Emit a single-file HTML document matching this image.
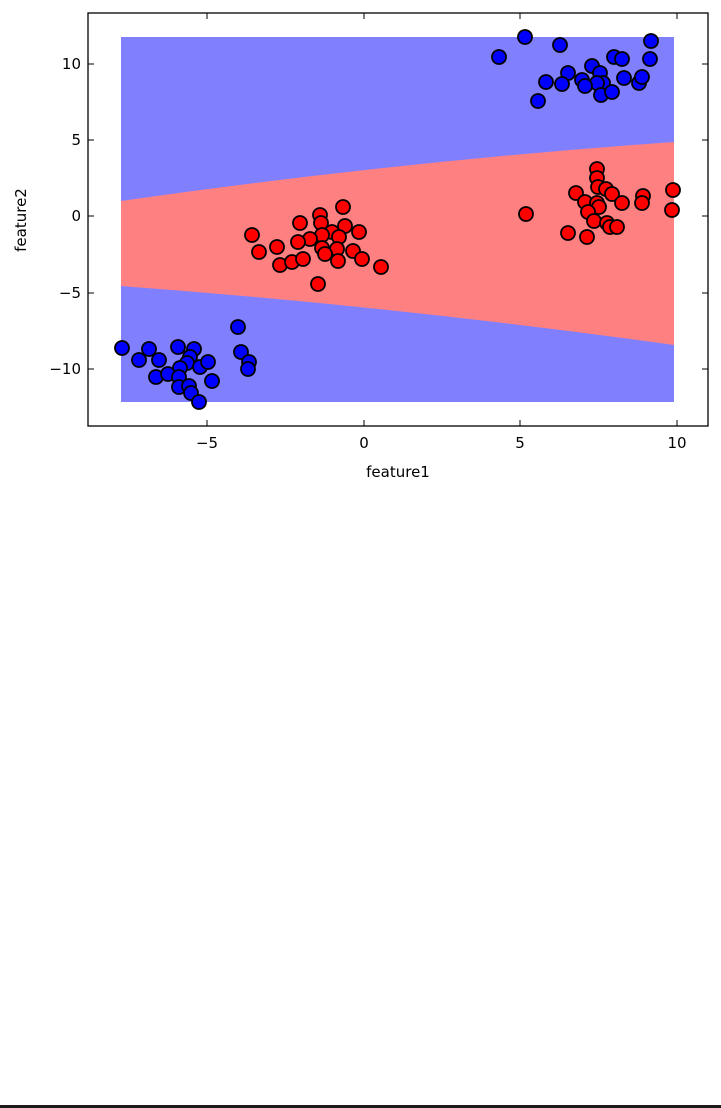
<!DOCTYPE html>
<html><head><style>body{margin:0;background:#fff}svg{display:block}</style></head><body>
<svg width="721" height="1108" xmlns="http://www.w3.org/2000/svg" font-family="DejaVu Sans, Liberation Sans, sans-serif">
<rect width="721" height="1108" fill="#fff"/>
<rect x="121" y="37" width="553" height="365" fill="#8080ff"/>
<path d="M121,201 Q397.5,161.5 674,142 L674,345 Q397.5,306.5 121,286 Z" fill="#ff8080"/>
<g stroke="#000" stroke-width="1.8">
<g fill="#0000ff">
<circle cx="122" cy="348" r="7"/><circle cx="149" cy="349" r="7"/><circle cx="139" cy="360" r="7"/><circle cx="159" cy="360" r="7"/><circle cx="178" cy="347" r="7"/><circle cx="194" cy="349" r="7"/><circle cx="190" cy="357" r="7"/><circle cx="187" cy="363" r="7"/><circle cx="180" cy="368" r="7"/><circle cx="200" cy="367" r="7"/><circle cx="208" cy="362" r="7"/><circle cx="156" cy="377" r="7"/><circle cx="168" cy="374" r="7"/><circle cx="179" cy="377" r="7"/><circle cx="179" cy="387" r="7"/><circle cx="189" cy="386" r="7"/><circle cx="191" cy="393" r="7"/><circle cx="199" cy="402" r="7"/><circle cx="212" cy="381" r="7"/><circle cx="238" cy="327" r="7"/><circle cx="241" cy="352" r="7"/><circle cx="249" cy="362" r="7"/><circle cx="248" cy="369" r="7"/>
<circle cx="525" cy="37" r="7"/><circle cx="499" cy="57" r="7"/><circle cx="560" cy="45" r="7"/><circle cx="651" cy="41" r="7"/><circle cx="650" cy="59" r="7"/><circle cx="614" cy="57" r="7"/><circle cx="622" cy="59" r="7"/><circle cx="568" cy="73" r="7"/><circle cx="546" cy="82" r="7"/><circle cx="562" cy="84" r="7"/><circle cx="538" cy="101" r="7"/><circle cx="582" cy="80" r="7"/><circle cx="592" cy="66" r="7"/><circle cx="600" cy="73" r="7"/><circle cx="603" cy="83" r="7"/><circle cx="597" cy="83" r="7"/><circle cx="585" cy="86" r="7"/><circle cx="601" cy="95" r="7"/><circle cx="612" cy="92" r="7"/><circle cx="624" cy="78" r="7"/><circle cx="639" cy="83" r="7"/><circle cx="642" cy="77" r="7"/>
</g>
<g fill="#ff0000">
<circle cx="526" cy="214" r="7"/><circle cx="597" cy="169" r="7"/><circle cx="597" cy="178" r="7"/><circle cx="598" cy="187" r="7"/><circle cx="606" cy="189" r="7"/><circle cx="576" cy="193" r="7"/><circle cx="612" cy="194" r="7"/><circle cx="622" cy="203" r="7"/><circle cx="643" cy="196" r="7"/><circle cx="642" cy="203" r="7"/><circle cx="673" cy="190" r="7"/><circle cx="672" cy="210" r="7"/><circle cx="585" cy="202" r="7"/><circle cx="597" cy="203" r="7"/><circle cx="599" cy="207" r="7"/><circle cx="588" cy="212" r="7"/><circle cx="594" cy="221" r="7"/><circle cx="607" cy="223" r="7"/><circle cx="610" cy="227" r="7"/><circle cx="617" cy="227" r="7"/><circle cx="568" cy="233" r="7"/><circle cx="587" cy="237" r="7"/>
<circle cx="343" cy="207" r="7"/><circle cx="320" cy="215" r="7"/><circle cx="321" cy="223" r="7"/><circle cx="300" cy="223" r="7"/><circle cx="345" cy="226" r="7"/><circle cx="359" cy="232" r="7"/><circle cx="252" cy="235" r="7"/><circle cx="332" cy="232" r="7"/><circle cx="322" cy="235" r="7"/><circle cx="339" cy="237" r="7"/><circle cx="310" cy="239" r="7"/><circle cx="298" cy="242" r="7"/><circle cx="277" cy="247" r="7"/><circle cx="259" cy="252" r="7"/><circle cx="322" cy="248" r="7"/><circle cx="337" cy="249" r="7"/><circle cx="353" cy="251" r="7"/><circle cx="325" cy="254" r="7"/><circle cx="280" cy="265" r="7"/><circle cx="292" cy="262" r="7"/><circle cx="303" cy="259" r="7"/><circle cx="338" cy="261" r="7"/><circle cx="362" cy="259" r="7"/><circle cx="381" cy="267" r="7"/><circle cx="318" cy="284" r="7"/>
</g>
</g>
<rect x="88" y="13" width="620" height="413" fill="none" stroke="#000" stroke-width="1.3"/>
<g stroke="#000" stroke-width="1">
<path d="M207,426v-6M364,426v-6M520,426v-6M677,426v-6M207,13v6M364,13v6M520,13v6M677,13v6"/>
<path d="M88,64h6M88,140h6M88,216h6M88,293h6M88,369h6M708,64h-6M708,140h-6M708,216h-6M708,293h-6M708,369h-6"/>
</g>
<g font-size="15" text-anchor="middle">
<text x="207" y="448">−5</text><text x="364" y="448">0</text><text x="520" y="448">5</text><text x="677" y="448">10</text>
</g>
<g font-size="15" text-anchor="end">
<text x="81" y="69">10</text><text x="81" y="145">5</text><text x="81" y="221">0</text><text x="81" y="298">−5</text><text x="81" y="374">−10</text>
</g>
<text x="398" y="477" font-size="15" text-anchor="middle">feature1</text>
<text transform="translate(26,220) rotate(-90)" font-size="15" text-anchor="middle">feature2</text>
<rect x="0" y="1105" width="721" height="3" fill="#1a1a1a"/>
</svg>
</body></html>
